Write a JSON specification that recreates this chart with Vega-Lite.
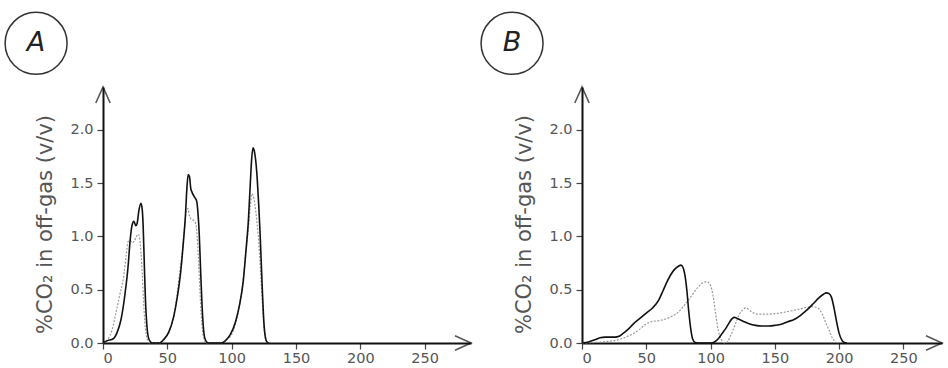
{
  "$schema": "https://vega.github.io/schema/vega-lite/v6.json",
  "padding": {"left": 2, "top": 9, "right": 0, "bottom": 0},
  "background": "white",
  "config": {
    "view": {"stroke": null},
    "font": "DejaVu Sans",
    "axis": {
      "grid": false,
      "domainColor": "#111",
      "domainWidth": 2,
      "tickColor": "#444",
      "tickSize": 6,
      "tickWidth": 1.2,
      "labelColor": "#555",
      "labelFontSize": 14.5,
      "labelFont": "DejaVu Sans",
      "titleFont": "DejaVu Sans",
      "titleColor": "#555",
      "titleFontWeight": "normal",
      "titleFontSize": 21
    }
  },
  "datasets": {
    "curves": [
      {"panel":"A","series":"solid","t":0,"v":0},{"panel":"A","series":"solid","t":3,"v":0.02},{"panel":"A","series":"solid","t":8,"v":0.04},{"panel":"A","series":"solid","t":11,"v":0.1},{"panel":"A","series":"solid","t":14,"v":0.22},{"panel":"A","series":"solid","t":17,"v":0.45},{"panel":"A","series":"solid","t":19.5,"v":0.72},{"panel":"A","series":"solid","t":21,"v":0.95},{"panel":"A","series":"solid","t":22.5,"v":1.1},{"panel":"A","series":"solid","t":24,"v":1.14},{"panel":"A","series":"solid","t":25.5,"v":1.1},{"panel":"A","series":"solid","t":26.5,"v":1.12},{"panel":"A","series":"solid","t":28,"v":1.25},{"panel":"A","series":"solid","t":29.5,"v":1.31},{"panel":"A","series":"solid","t":30.5,"v":1.25},{"panel":"A","series":"solid","t":31.2,"v":1.1},{"panel":"A","series":"solid","t":32.2,"v":0.7},{"panel":"A","series":"solid","t":33,"v":0.4},{"panel":"A","series":"solid","t":34,"v":0.18},{"panel":"A","series":"solid","t":35.3,"v":0.05},{"panel":"A","series":"solid","t":37,"v":0.01},{"panel":"A","series":"solid","t":38,"v":0},{"panel":"A","series":"solid","t":44,"v":0},{"panel":"A","series":"solid","t":47,"v":0.03},{"panel":"A","series":"solid","t":51,"v":0.1},{"panel":"A","series":"solid","t":55,"v":0.25},{"panel":"A","series":"solid","t":58,"v":0.45},{"panel":"A","series":"solid","t":60.5,"v":0.68},{"panel":"A","series":"solid","t":62.5,"v":0.95},{"panel":"A","series":"solid","t":64,"v":1.18},{"panel":"A","series":"solid","t":65.2,"v":1.45},{"panel":"A","series":"solid","t":66.2,"v":1.58},{"panel":"A","series":"solid","t":67.2,"v":1.56},{"panel":"A","series":"solid","t":68.2,"v":1.45},{"panel":"A","series":"solid","t":69.3,"v":1.41},{"panel":"A","series":"solid","t":71,"v":1.37},{"panel":"A","series":"solid","t":72.8,"v":1.33},{"panel":"A","series":"solid","t":73.8,"v":1.22},{"panel":"A","series":"solid","t":74.8,"v":1.02},{"panel":"A","series":"solid","t":75.8,"v":0.7},{"panel":"A","series":"solid","t":76.8,"v":0.4},{"panel":"A","series":"solid","t":77.8,"v":0.18},{"panel":"A","series":"solid","t":79,"v":0.05},{"panel":"A","series":"solid","t":80.5,"v":0.01},{"panel":"A","series":"solid","t":82,"v":0},{"panel":"A","series":"solid","t":92,"v":0},{"panel":"A","series":"solid","t":95,"v":0.02},{"panel":"A","series":"solid","t":99,"v":0.08},{"panel":"A","series":"solid","t":103,"v":0.2},{"panel":"A","series":"solid","t":106,"v":0.35},{"panel":"A","series":"solid","t":109,"v":0.58},{"panel":"A","series":"solid","t":111,"v":0.85},{"panel":"A","series":"solid","t":113,"v":1.15},{"panel":"A","series":"solid","t":114.5,"v":1.5},{"panel":"A","series":"solid","t":115.5,"v":1.72},{"panel":"A","series":"solid","t":116.6,"v":1.83},{"panel":"A","series":"solid","t":117.6,"v":1.8},{"panel":"A","series":"solid","t":118.6,"v":1.72},{"panel":"A","series":"solid","t":119.8,"v":1.55},{"panel":"A","series":"solid","t":121,"v":1.3},{"panel":"A","series":"solid","t":122,"v":1.05},{"panel":"A","series":"solid","t":123,"v":0.75},{"panel":"A","series":"solid","t":124,"v":0.45},{"panel":"A","series":"solid","t":125,"v":0.2},{"panel":"A","series":"solid","t":126,"v":0.07},{"panel":"A","series":"solid","t":127.5,"v":0.01},{"panel":"A","series":"solid","t":129,"v":0},
      {"panel":"A","series":"dotted","t":0,"v":0},{"panel":"A","series":"dotted","t":4,"v":0.04},{"panel":"A","series":"dotted","t":7,"v":0.12},{"panel":"A","series":"dotted","t":10,"v":0.28},{"panel":"A","series":"dotted","t":13,"v":0.45},{"panel":"A","series":"dotted","t":16,"v":0.62},{"panel":"A","series":"dotted","t":18,"v":0.82},{"panel":"A","series":"dotted","t":19.5,"v":0.95},{"panel":"A","series":"dotted","t":21,"v":0.96},{"panel":"A","series":"dotted","t":23,"v":0.94},{"panel":"A","series":"dotted","t":24.5,"v":0.96},{"panel":"A","series":"dotted","t":26,"v":1.0},{"panel":"A","series":"dotted","t":27.5,"v":1.02},{"panel":"A","series":"dotted","t":28.5,"v":0.98},{"panel":"A","series":"dotted","t":29.5,"v":0.85},{"panel":"A","series":"dotted","t":30.5,"v":0.65},{"panel":"A","series":"dotted","t":31.5,"v":0.4},{"panel":"A","series":"dotted","t":32.5,"v":0.2},{"panel":"A","series":"dotted","t":33.5,"v":0.08},{"panel":"A","series":"dotted","t":35,"v":0.02},{"panel":"A","series":"dotted","t":36.5,"v":0},{"panel":"A","series":"dotted","t":44,"v":0},{"panel":"A","series":"dotted","t":48,"v":0.04},{"panel":"A","series":"dotted","t":52,"v":0.12},{"panel":"A","series":"dotted","t":55,"v":0.25},{"panel":"A","series":"dotted","t":58,"v":0.5},{"panel":"A","series":"dotted","t":60,"v":0.7},{"panel":"A","series":"dotted","t":62,"v":0.9},{"panel":"A","series":"dotted","t":63.5,"v":1.1},{"panel":"A","series":"dotted","t":64.8,"v":1.24},{"panel":"A","series":"dotted","t":66,"v":1.26},{"panel":"A","series":"dotted","t":67,"v":1.2},{"panel":"A","series":"dotted","t":68.5,"v":1.16},{"panel":"A","series":"dotted","t":70.5,"v":1.15},{"panel":"A","series":"dotted","t":72,"v":1.12},{"panel":"A","series":"dotted","t":73.2,"v":1.0},{"panel":"A","series":"dotted","t":74.3,"v":0.75},{"panel":"A","series":"dotted","t":75.3,"v":0.5},{"panel":"A","series":"dotted","t":76.3,"v":0.27},{"panel":"A","series":"dotted","t":77.3,"v":0.12},{"panel":"A","series":"dotted","t":78.5,"v":0.04},{"panel":"A","series":"dotted","t":80,"v":0},{"panel":"A","series":"dotted","t":92,"v":0},{"panel":"A","series":"dotted","t":96,"v":0.03},{"panel":"A","series":"dotted","t":100,"v":0.08},{"panel":"A","series":"dotted","t":103,"v":0.18},{"panel":"A","series":"dotted","t":106,"v":0.35},{"panel":"A","series":"dotted","t":109,"v":0.6},{"panel":"A","series":"dotted","t":111,"v":0.85},{"panel":"A","series":"dotted","t":113,"v":1.08},{"panel":"A","series":"dotted","t":114.5,"v":1.28},{"panel":"A","series":"dotted","t":115.8,"v":1.4},{"panel":"A","series":"dotted","t":116.8,"v":1.38},{"panel":"A","series":"dotted","t":118,"v":1.3},{"panel":"A","series":"dotted","t":119.5,"v":1.15},{"panel":"A","series":"dotted","t":121,"v":0.95},{"panel":"A","series":"dotted","t":122.3,"v":0.7},{"panel":"A","series":"dotted","t":123.5,"v":0.45},{"panel":"A","series":"dotted","t":124.5,"v":0.25},{"panel":"A","series":"dotted","t":125.5,"v":0.1},{"panel":"A","series":"dotted","t":126.5,"v":0.03},{"panel":"A","series":"dotted","t":128,"v":0},
      {"panel":"B","series":"solid","t":0,"v":0},{"panel":"B","series":"solid","t":5,"v":0.01},{"panel":"B","series":"solid","t":10,"v":0.03},{"panel":"B","series":"solid","t":14,"v":0.05},{"panel":"B","series":"solid","t":18,"v":0.055},{"panel":"B","series":"solid","t":24,"v":0.055},{"panel":"B","series":"solid","t":28,"v":0.06},{"panel":"B","series":"solid","t":32,"v":0.09},{"panel":"B","series":"solid","t":36,"v":0.13},{"panel":"B","series":"solid","t":40,"v":0.18},{"panel":"B","series":"solid","t":45,"v":0.23},{"panel":"B","series":"solid","t":50,"v":0.28},{"panel":"B","series":"solid","t":55,"v":0.33},{"panel":"B","series":"solid","t":60,"v":0.41},{"panel":"B","series":"solid","t":63,"v":0.49},{"panel":"B","series":"solid","t":66,"v":0.57},{"panel":"B","series":"solid","t":69,"v":0.64},{"panel":"B","series":"solid","t":72,"v":0.69},{"panel":"B","series":"solid","t":75,"v":0.72},{"panel":"B","series":"solid","t":77,"v":0.73},{"panel":"B","series":"solid","t":78.5,"v":0.71},{"panel":"B","series":"solid","t":80,"v":0.64},{"panel":"B","series":"solid","t":81.5,"v":0.5},{"panel":"B","series":"solid","t":83,"v":0.3},{"panel":"B","series":"solid","t":84.5,"v":0.14},{"panel":"B","series":"solid","t":86,"v":0.04},{"panel":"B","series":"solid","t":88,"v":0.005},{"panel":"B","series":"solid","t":90,"v":0},{"panel":"B","series":"solid","t":100,"v":0},{"panel":"B","series":"solid","t":103,"v":0.01},{"panel":"B","series":"solid","t":106,"v":0.04},{"panel":"B","series":"solid","t":109,"v":0.09},{"panel":"B","series":"solid","t":112,"v":0.14},{"panel":"B","series":"solid","t":115,"v":0.2},{"panel":"B","series":"solid","t":117,"v":0.23},{"panel":"B","series":"solid","t":118.5,"v":0.24},{"panel":"B","series":"solid","t":120,"v":0.235},{"panel":"B","series":"solid","t":122.5,"v":0.22},{"panel":"B","series":"solid","t":126,"v":0.2},{"panel":"B","series":"solid","t":130,"v":0.18},{"panel":"B","series":"solid","t":135,"v":0.165},{"panel":"B","series":"solid","t":140,"v":0.16},{"panel":"B","series":"solid","t":145,"v":0.16},{"panel":"B","series":"solid","t":150,"v":0.165},{"panel":"B","series":"solid","t":155,"v":0.175},{"panel":"B","series":"solid","t":160,"v":0.2},{"panel":"B","series":"solid","t":165,"v":0.22},{"panel":"B","series":"solid","t":170,"v":0.26},{"panel":"B","series":"solid","t":175,"v":0.31},{"panel":"B","series":"solid","t":180,"v":0.37},{"panel":"B","series":"solid","t":184,"v":0.42},{"panel":"B","series":"solid","t":187,"v":0.45},{"panel":"B","series":"solid","t":190,"v":0.47},{"panel":"B","series":"solid","t":192,"v":0.465},{"panel":"B","series":"solid","t":194,"v":0.43},{"panel":"B","series":"solid","t":196,"v":0.33},{"panel":"B","series":"solid","t":198,"v":0.2},{"panel":"B","series":"solid","t":200,"v":0.09},{"panel":"B","series":"solid","t":202,"v":0.03},{"panel":"B","series":"solid","t":204,"v":0.005},{"panel":"B","series":"solid","t":206,"v":0},
      {"panel":"B","series":"dotted","t":0,"v":0},{"panel":"B","series":"dotted","t":10,"v":0.005},{"panel":"B","series":"dotted","t":20,"v":0.015},{"panel":"B","series":"dotted","t":28,"v":0.03},{"panel":"B","series":"dotted","t":35,"v":0.06},{"panel":"B","series":"dotted","t":40,"v":0.09},{"panel":"B","series":"dotted","t":45,"v":0.13},{"panel":"B","series":"dotted","t":50,"v":0.18},{"panel":"B","series":"dotted","t":54,"v":0.2},{"panel":"B","series":"dotted","t":60,"v":0.21},{"panel":"B","series":"dotted","t":65,"v":0.225},{"panel":"B","series":"dotted","t":70,"v":0.25},{"panel":"B","series":"dotted","t":75,"v":0.29},{"panel":"B","series":"dotted","t":80,"v":0.36},{"panel":"B","series":"dotted","t":85,"v":0.44},{"panel":"B","series":"dotted","t":90,"v":0.52},{"panel":"B","series":"dotted","t":94,"v":0.565},{"panel":"B","series":"dotted","t":97,"v":0.575},{"panel":"B","series":"dotted","t":99,"v":0.56},{"panel":"B","series":"dotted","t":101,"v":0.5},{"panel":"B","series":"dotted","t":102.5,"v":0.4},{"panel":"B","series":"dotted","t":104,"v":0.27},{"panel":"B","series":"dotted","t":105.5,"v":0.15},{"panel":"B","series":"dotted","t":107,"v":0.07},{"panel":"B","series":"dotted","t":109,"v":0.02},{"panel":"B","series":"dotted","t":111,"v":0},{"panel":"B","series":"dotted","t":113,"v":0.01},{"panel":"B","series":"dotted","t":116,"v":0.08},{"panel":"B","series":"dotted","t":119,"v":0.17},{"panel":"B","series":"dotted","t":122,"v":0.26},{"panel":"B","series":"dotted","t":125,"v":0.31},{"panel":"B","series":"dotted","t":127.5,"v":0.33},{"panel":"B","series":"dotted","t":130,"v":0.31},{"panel":"B","series":"dotted","t":133,"v":0.285},{"panel":"B","series":"dotted","t":137,"v":0.27},{"panel":"B","series":"dotted","t":143,"v":0.27},{"panel":"B","series":"dotted","t":150,"v":0.275},{"panel":"B","series":"dotted","t":160,"v":0.295},{"panel":"B","series":"dotted","t":170,"v":0.32},{"panel":"B","series":"dotted","t":178,"v":0.34},{"panel":"B","series":"dotted","t":182,"v":0.335},{"panel":"B","series":"dotted","t":185,"v":0.31},{"panel":"B","series":"dotted","t":188,"v":0.24},{"panel":"B","series":"dotted","t":190,"v":0.18},{"panel":"B","series":"dotted","t":192.5,"v":0.11},{"panel":"B","series":"dotted","t":195,"v":0.04},{"panel":"B","series":"dotted","t":197.5,"v":0.01},{"panel":"B","series":"dotted","t":200,"v":0}
    ],
    "badges": [
      {"panel":"A","label":"A","t":-52,"v":2.81},
      {"panel":"B","label":"B","t":-54.4,"v":2.81}
    ],
    "arrows": [
      {"panel":"A","axis":"y","t":0,"v":2.4},
      {"panel":"A","axis":"x","t":286,"v":0},
      {"panel":"B","axis":"y","t":0,"v":2.4},
      {"panel":"B","axis":"x","t":280,"v":0}
    ]
  },
  "bounds": "flush",
  "spacing": 111,
  "hconcat": [
    {
      "width": 368,
      "height": 256,
      "layer": [
        {
          "data": {"name": "curves"},
          "transform": [{"filter": "datum.panel === 'A' && datum.series === 'dotted'"}],
          "mark": {"type": "line", "color": "#9a9a9a", "strokeWidth": 1.2, "strokeDash": [2, 1.5], "interpolate": "monotone"},
          "encoding": {
            "x": {"field": "t", "type": "quantitative", "scale": {"domain": [0, 286], "nice": false}, "axis": {"values": [0, 50, 100, 150, 200, 250], "title": null, "labelPadding": 2}},
            "y": {"field": "v", "type": "quantitative", "scale": {"domain": [0, 2.4], "nice": false}, "axis": {"values": [0, 0.5, 1, 1.5, 2], "format": ".1f", "title": "%CO₂ in off-gas (v/v)", "titlePadding": 14, "titleY": 137, "labelPadding": 4}}
          }
        },
        {
          "data": {"name": "curves"},
          "transform": [{"filter": "datum.panel === 'A' && datum.series === 'solid'"}],
          "mark": {"type": "line", "color": "#111", "strokeWidth": 1.6, "interpolate": "monotone"},
          "encoding": {
            "x": {"field": "t", "type": "quantitative", "scale": {"domain": [0, 286], "nice": false}},
            "y": {"field": "v", "type": "quantitative", "scale": {"domain": [0, 2.4], "nice": false}}
          }
        },
        {
          "data": {"name": "arrows"},
          "transform": [{"filter": "datum.panel === 'A' && datum.axis === 'y'"}],
          "mark": {"type": "point", "shape": "M-0.9,2 L0,0 L0.9,2", "size": 256, "filled": false, "stroke": "#111", "strokeWidth": 1.6, "clip": false},
          "encoding": {
            "x": {"field": "t", "type": "quantitative", "scale": {"domain": [0, 286], "nice": false}},
            "y": {"field": "v", "type": "quantitative", "scale": {"domain": [0, 2.4], "nice": false}}
          }
        },
        {
          "data": {"name": "arrows"},
          "transform": [{"filter": "datum.panel === 'A' && datum.axis === 'x'"}],
          "mark": {"type": "point", "shape": "M-0.9,2 L0,0 L0.9,2", "angle": 90, "size": 256, "filled": false, "stroke": "#111", "strokeWidth": 1.6, "clip": false},
          "encoding": {
            "x": {"field": "t", "type": "quantitative", "scale": {"domain": [0, 286], "nice": false}},
            "y": {"field": "v", "type": "quantitative", "scale": {"domain": [0, 2.4], "nice": false}}
          }
        },
        {
          "data": {"name": "badges"},
          "transform": [{"filter": "datum.panel === 'A'"}],
          "mark": {"type": "point", "shape": "circle", "size": 3844, "filled": false, "stroke": "#333", "strokeWidth": 1.5, "opacity": 1, "clip": false},
          "encoding": {
            "x": {"field": "t", "type": "quantitative", "scale": {"domain": [0, 286], "nice": false}},
            "y": {"field": "v", "type": "quantitative", "scale": {"domain": [0, 2.4], "nice": false}}
          }
        },
        {
          "data": {"name": "badges"},
          "transform": [{"filter": "datum.panel === 'A'"}],
          "mark": {"type": "text", "fontSize": 27, "color": "#222", "font": "DejaVu Sans", "fontStyle": "italic", "baseline": "middle", "align": "center", "clip": false},
          "encoding": {
            "x": {"field": "t", "type": "quantitative", "scale": {"domain": [0, 286], "nice": false}},
            "y": {"field": "v", "type": "quantitative", "scale": {"domain": [0, 2.4], "nice": false}},
            "text": {"field": "label"}
          }
        }
      ]
    },
    {
      "width": 360,
      "height": 256,
      "layer": [
        {
          "data": {"name": "curves"},
          "transform": [{"filter": "datum.panel === 'B' && datum.series === 'dotted'"}],
          "mark": {"type": "line", "color": "#9a9a9a", "strokeWidth": 1.2, "strokeDash": [2, 1.5], "interpolate": "monotone"},
          "encoding": {
            "x": {"field": "t", "type": "quantitative", "scale": {"domain": [0, 280], "nice": false}, "axis": {"values": [0, 50, 100, 150, 200, 250], "title": null, "labelPadding": 2}},
            "y": {"field": "v", "type": "quantitative", "scale": {"domain": [0, 2.4], "nice": false}, "axis": {"values": [0, 0.5, 1, 1.5, 2], "format": ".1f", "title": "%CO₂ in off-gas (v/v)", "titlePadding": 14, "titleY": 137, "labelPadding": 4}}
          }
        },
        {
          "data": {"name": "curves"},
          "transform": [{"filter": "datum.panel === 'B' && datum.series === 'solid'"}],
          "mark": {"type": "line", "color": "#111", "strokeWidth": 1.6, "interpolate": "monotone"},
          "encoding": {
            "x": {"field": "t", "type": "quantitative", "scale": {"domain": [0, 280], "nice": false}},
            "y": {"field": "v", "type": "quantitative", "scale": {"domain": [0, 2.4], "nice": false}}
          }
        },
        {
          "data": {"name": "arrows"},
          "transform": [{"filter": "datum.panel === 'B' && datum.axis === 'y'"}],
          "mark": {"type": "point", "shape": "M-0.9,2 L0,0 L0.9,2", "size": 256, "filled": false, "stroke": "#111", "strokeWidth": 1.6, "clip": false},
          "encoding": {
            "x": {"field": "t", "type": "quantitative", "scale": {"domain": [0, 280], "nice": false}},
            "y": {"field": "v", "type": "quantitative", "scale": {"domain": [0, 2.4], "nice": false}}
          }
        },
        {
          "data": {"name": "arrows"},
          "transform": [{"filter": "datum.panel === 'B' && datum.axis === 'x'"}],
          "mark": {"type": "point", "shape": "M-0.9,2 L0,0 L0.9,2", "angle": 90, "size": 256, "filled": false, "stroke": "#111", "strokeWidth": 1.6, "clip": false},
          "encoding": {
            "x": {"field": "t", "type": "quantitative", "scale": {"domain": [0, 280], "nice": false}},
            "y": {"field": "v", "type": "quantitative", "scale": {"domain": [0, 2.4], "nice": false}}
          }
        },
        {
          "data": {"name": "badges"},
          "transform": [{"filter": "datum.panel === 'B'"}],
          "mark": {"type": "point", "shape": "circle", "size": 3844, "filled": false, "stroke": "#333", "strokeWidth": 1.5, "opacity": 1, "clip": false},
          "encoding": {
            "x": {"field": "t", "type": "quantitative", "scale": {"domain": [0, 280], "nice": false}},
            "y": {"field": "v", "type": "quantitative", "scale": {"domain": [0, 2.4], "nice": false}}
          }
        },
        {
          "data": {"name": "badges"},
          "transform": [{"filter": "datum.panel === 'B'"}],
          "mark": {"type": "text", "fontSize": 27, "color": "#222", "font": "DejaVu Sans", "fontStyle": "italic", "baseline": "middle", "align": "center", "clip": false},
          "encoding": {
            "x": {"field": "t", "type": "quantitative", "scale": {"domain": [0, 280], "nice": false}},
            "y": {"field": "v", "type": "quantitative", "scale": {"domain": [0, 2.4], "nice": false}},
            "text": {"field": "label"}
          }
        }
      ]
    }
  ]
}
